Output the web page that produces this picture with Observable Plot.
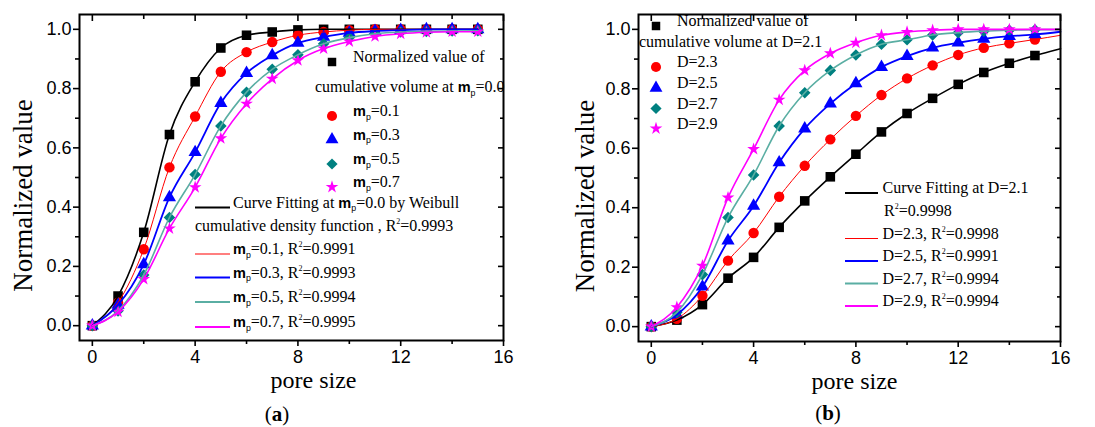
<!DOCTYPE html>
<html><head><meta charset="utf-8">
<script src="https://cdn.jsdelivr.net/npm/d3@7"></script>
<script src="https://cdn.jsdelivr.net/npm/@observablehq/plot@0.6"></script>
<style>
html,body{margin:0;padding:0;background:#fff;}
#wrap{display:flex;width:1095px;height:427px;overflow:hidden;}
#wrap svg{display:block;flex:none;}
</style></head><body><div id="wrap"></div>
<script>
// ---------- data ----------
const poreSize = [0,1,2,3,4,5,6,7,8,9,10,11,12,13,14,15];
// panel (a): m_p series
const mp00 = [0,0.100,0.315,0.645,0.823,0.937,0.980,0.991,0.998,1.0,1.0,1.0,1.0,1.0,1.0,1.0];
const mp01 = [0,0.078,0.258,0.534,0.706,0.857,0.923,0.957,0.980,0.991,0.997,1.0,1.0,1.0,1.0,1.0];
const mp03 = [0,0.070,0.207,0.433,0.585,0.751,0.852,0.912,0.954,0.974,0.988,0.994,0.997,1.0,1.0,1.0];
const mp05 = [0,0.050,0.171,0.365,0.510,0.674,0.788,0.865,0.914,0.951,0.972,0.985,0.991,0.993,0.994,0.995];
const mp07 = [0,0.047,0.157,0.328,0.467,0.632,0.749,0.833,0.895,0.935,0.959,0.976,0.985,0.990,0.992,0.992];
// panel (b): D series
const d21 = [0,0.022,0.074,0.163,0.233,0.334,0.423,0.504,0.580,0.655,0.717,0.768,0.815,0.855,0.886,0.912];
const d23 = [0,0.026,0.104,0.222,0.315,0.437,0.541,0.630,0.709,0.779,0.835,0.879,0.914,0.938,0.953,0.966];
const d25 = [0,0.040,0.134,0.289,0.406,0.552,0.666,0.750,0.818,0.873,0.910,0.938,0.955,0.968,0.977,0.983];
const d27 = [0,0.048,0.175,0.367,0.510,0.675,0.787,0.862,0.914,0.950,0.965,0.981,0.989,0.994,0.997,0.999];
const d29 = [0,0.065,0.205,0.434,0.597,0.763,0.862,0.919,0.955,0.980,0.991,0.997,1.0,1.0,1.0,1.0];
// fitted-curve end values at pore size 16 (panel b curves run to the frame edge)
const fitEndX = 16;
const fitEnd16 = [0.935,0.980,0.992,0.999,1.0];
// ticks
const xMajor = [0,4,8,12,16];
const xMinor = [2,6,10,14];
const yMajor = [0,0.2,0.4,0.6,0.8,1.0];
const yMinor = [0.1,0.3,0.5,0.7,0.9];
// legend labels
const labelsA = ["{mp}=0.1","{mp}=0.3","{mp}=0.5","{mp}=0.7"];
const fitLabelsA = ["{mp}=0.1, R^2=0.9991","{mp}=0.3, R^2=0.9993","{mp}=0.5, R^2=0.9994","{mp}=0.7, R^2=0.9995"];
const labelsB = ["D=2.3","D=2.5","D=2.7","D=2.9"];
const fitLabelsB = ["D=2.3, R^2=0.9998","D=2.5, R^2=0.9991","D=2.7, R^2=0.9994","D=2.9, R^2=0.9994"];

// ---------- styles ----------
const SERIF = "'Liberation Serif','Times New Roman',serif";
const SANS = "'Liberation Sans',Arial,sans-serif";
const styles = [
  {color:"#000000", line:"#000000", lw:1.6, symbol:"square",   r:5.4, d3sym:d3.symbolSquare,   size:72},
  {color:"#ff0000", line:"#ff0000", lw:1.0, symbol:"circle",   r:5.2, d3sym:d3.symbolCircle,   size:80},
  {color:"#0000ff", line:"#0000ff", lw:1.8, symbol:"triangle", r:4.9, d3sym:d3.symbolTriangle, size:72},
  {color:"#008080", line:"#5aaea3", lw:1.6, symbol:"diamond2", r:5.2, d3sym:d3.symbolDiamond2, size:80},
  {color:"#ff00ff", line:"#ff00ff", lw:1.6, symbol:"star",     r:4.0, d3sym:d3.symbolStar,     size:50}
];

function richText(g, x, y, str, fontSize) {
  const t = g.append("text").attr("x", x).attr("y", y).attr("dy", "0.35em")
    .attr("text-anchor", "start")
    .attr("font-family", SERIF).attr("font-size", fontSize).attr("fill", "#000");
  const parts = str.split(/(\{mp\}|\^2)/).filter(s => s.length);
  let shift = 0;
  const add = (txt, attrs, newShift) => {
    const ts = t.append("tspan").text(txt);
    ts.attr("dy", newShift - shift);
    shift = newShift;
    for (const k in attrs) ts.attr(k, attrs[k]);
  };
  for (const p of parts) {
    if (p === "{mp}") {
      add("m", {"font-family": SANS, "font-weight": "bold", "font-size": fontSize - 1.5}, 0);
      add("p", {"font-family": SANS, "font-size": fontSize * 0.55}, 3.5);
    } else if (p === "^2") {
      add("2", {"font-size": fontSize * 0.5}, -7);
    } else {
      add(p, {}, 0);
    }
  }
  return t;
}

function makePanel(cfg) {
  const {width, height, mL, mR, mT, mB, series, fitEnds, yTitleDx, xTitleDx} = cfg;
  const marks = [];
  series.forEach((vals, k) => {
    const st = styles[k];
    marks.push(Plot.dot(poreSize.map((x, i) => ({x, y: vals[i]})),
      {x: "x", y: "y", symbol: st.symbol, r: st.r, fill: st.color, stroke: "none"}));
  });
  series.forEach((vals, k) => {
    const st = styles[k];
    const pts = poreSize.map((x, i) => ({x, y: vals[i]}));
    if (fitEnds) pts.push({x: fitEndX, y: fitEnds[k]});
    marks.push(Plot.line(pts, {x: "x", y: "y", stroke: st.line, strokeWidth: st.lw, curve: "monotone-x"}));
  });
  const plot = Plot.plot({
    width, height, marginLeft: mL, marginRight: mR, marginTop: mT, marginBottom: mB,
    style: {fontFamily: SANS, background: "white", color: "black", overflow: "visible"},
    x: {domain: [-0.5, 16]},
    y: {domain: [-0.05, 1.05]},
    marks: [
      ...marks,
      Plot.frame({stroke: "black", strokeWidth: 2}),
      Plot.axisX(xMajor, {anchor: "bottom", tickSize: 6, tickPadding: 4, tickFormat: d => String(d), fontSize: 18, strokeWidth: 1.6, label: null}),
      Plot.axisX(xMinor, {anchor: "bottom", tickSize: 4, tickFormat: () => "", strokeWidth: 1.6, label: null}),
      Plot.axisX(xMajor, {anchor: "top", tickSize: -6, tickFormat: () => "", strokeWidth: 1.6, label: null}),
      Plot.axisX(xMinor, {anchor: "top", tickSize: -4, tickFormat: () => "", strokeWidth: 1.6, label: null}),
      Plot.axisY(yMajor, {anchor: "left", tickSize: 6, tickPadding: 2, tickFormat: d3.format(".1f"), fontSize: 18, strokeWidth: 1.6, label: null}),
      Plot.axisY(yMinor, {anchor: "left", tickSize: 4, tickFormat: () => "", strokeWidth: 1.6, label: null}),
      Plot.axisY(yMajor, {anchor: "right", tickSize: -6, tickFormat: () => "", strokeWidth: 1.6, label: null}),
      Plot.axisY(yMinor, {anchor: "right", tickSize: -4, tickFormat: () => "", strokeWidth: 1.6, label: null}),
      Plot.text(["Normalized value"], {text: d => d, frameAnchor: "left", textAnchor: "middle", rotate: -90, dx: yTitleDx, dy: 18, fontSize: 27, fontFamily: SERIF, fill: "black"}),
      Plot.text(["pore size"], {text: d => d, frameAnchor: "bottom", textAnchor: "middle", dx: xTitleDx, dy: 40, lineAnchor: "middle", fontSize: 24, fontFamily: SERIF, fill: "black"})
    ]
  });
  return plot;
}

function addLegend(plot, L) {
  const g = d3.select(plot).append("g").attr("class", "legend").attr("text-anchor", "start");
  L.syms.forEach((s, k) => {
    const st = styles[k];
    g.append("path").attr("d", d3.symbol(st.d3sym, st.size)())
      .attr("transform", `translate(${s.x},${s.y})`).attr("fill", st.color);
  });
  L.texts.forEach(t => richText(g, t.x, t.y, t.s, 16));
  L.lines.forEach((l, k) => {
    const st = styles[k];
    g.append("line").attr("x1", l.x1).attr("x2", l.x2).attr("y1", l.y).attr("y2", l.y)
      .attr("stroke", st.line).attr("stroke-width", st.lw + 0.2);
  });
  const cap = g.append("text").attr("x", L.cap.x).attr("y", L.cap.y).attr("dy", "0.35em")
    .attr("text-anchor", "middle").attr("font-family", SERIF).attr("font-size", 21).attr("fill", "#000");
  cap.append("tspan").text("(");
  cap.append("tspan").attr("font-weight", "bold").text(L.cap.letter);
  cap.append("tspan").text(")");
}

const wrap = document.getElementById("wrap");

// panel (a)
const pA = makePanel({width: 548, height: 427, mL: 79, mR: 45, mT: 14, mB: 87,
  series: [mp00, mp01, mp03, mp05, mp07], fitEnds: null, yTitleDx: -56, xTitleDx: 22});
addLegend(pA, {
  syms: [{x:332,y:62},{x:332,y:116},{x:332,y:139.5},{x:332,y:164},{x:332,y:187}],
  texts: [
    {x:353,y:62,s:"Normalized value of"},
    {x:315,y:92,s:"cumulative volume at {mp}=0.0"},
    {x:353,y:116,s:labelsA[0]},{x:353,y:139.5,s:labelsA[1]},{x:353,y:164,s:labelsA[2]},{x:353,y:187,s:labelsA[3]},
    {x:233,y:207.5,s:"Curve Fitting at {mp}=0.0 by Weibull"},
    {x:195,y:231,s:"cumulative density function , R^2=0.9993"},
    {x:233,y:254,s:fitLabelsA[0]},{x:233,y:277.5,s:fitLabelsA[1]},{x:233,y:302,s:fitLabelsA[2]},{x:233,y:327,s:fitLabelsA[3]}
  ],
  lines: [{x1:195,x2:230,y:207.5},{x1:195,x2:230,y:254},{x1:195,x2:230,y:277.5},{x1:195,x2:230,y:302},{x1:195,x2:230,y:327}],
  cap: {x:277, y:414, letter:"a"}
});
wrap.appendChild(pA);

// panel (b)
const pB = makePanel({width: 547, height: 427, mL: 90, mR: 35, mT: 14, mB: 86,
  series: [d21, d23, d25, d27, d29], fitEnds: fitEnd16, yTitleDx: -53, xTitleDx: 5});
addLegend(pB, {
  syms: [{x:108,y:26},{x:108,y:67},{x:108,y:88},{x:108,y:108.5},{x:108,y:128.5}],
  texts: [
    {x:129,y:26,s:"Normalized value of"},
    {x:91,y:47,s:"cumulative volume at D=2.1"},
    {x:129,y:67,s:labelsB[0]},{x:129,y:88,s:labelsB[1]},{x:129,y:108.5,s:labelsB[2]},{x:129,y:128.5,s:labelsB[3]},
    {x:334.5,y:193,s:"Curve Fitting at D=2.1"},
    {x:336,y:216,s:"R^2=0.9998"},
    {x:334.5,y:238.5,s:fitLabelsB[0]},{x:334.5,y:261,s:fitLabelsB[1]},{x:334.5,y:283.5,s:fitLabelsB[2]},{x:334.5,y:306,s:fitLabelsB[3]}
  ],
  lines: [{x1:297,x2:330,y:193},{x1:297,x2:330,y:238.5},{x1:297,x2:330,y:261},{x1:297,x2:330,y:283.5},{x1:297,x2:330,y:306}],
  cap: {x:280, y:413, letter:"b"}
});
wrap.appendChild(pB);
</script>
</body></html>
